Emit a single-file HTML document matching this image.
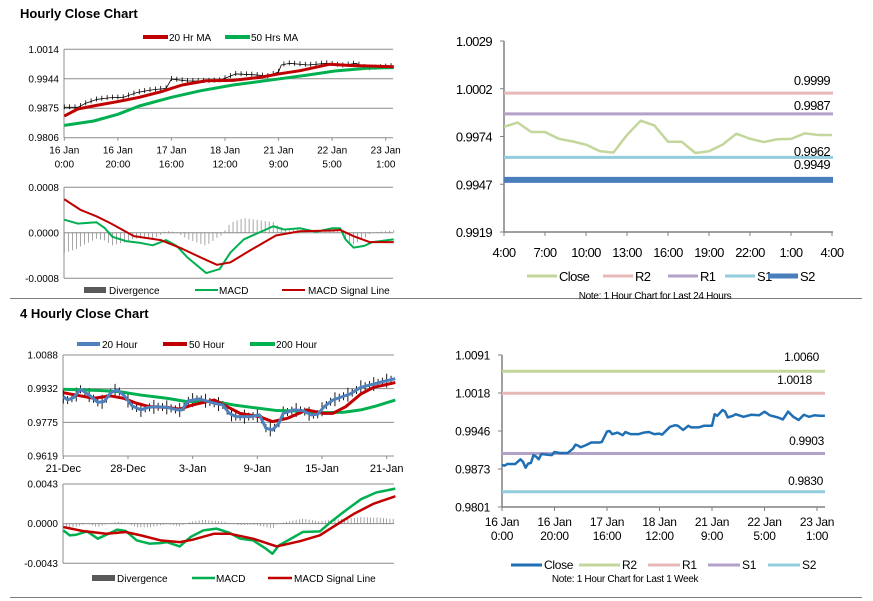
<!DOCTYPE html>
<html><head><meta charset="utf-8">
<style>
html,body{margin:0;padding:0;background:#fff;}
svg{display:block;font-family:"Liberation Sans",Arial,sans-serif;}
</style></head>
<body>
<svg id="chart" width="873" height="601" viewBox="0 0 873 601" xmlns="http://www.w3.org/2000/svg">
<rect width="873" height="601" fill="#fff"/>
<text x="20" y="18" font-size="13" font-weight="bold" fill="#000">Hourly Close Chart</text>
<text x="20" y="318" font-size="13" font-weight="bold" fill="#000">4 Hourly Close Chart</text>
<line x1="10" y1="298.5" x2="862" y2="298.5" stroke="#808080" stroke-width="1"/>
<line x1="10" y1="597.5" x2="862" y2="597.5" stroke="#808080" stroke-width="1"/>
<g id="layer"></g>
</svg>
<script>
// ---------- Top-left hourly chart data ----------
const tlMaHours = [0,5,12,20,28,36,44,53,63,73,80,88,99,107,123];
const tlMa20 = [0.9857,0.98735,0.9882,0.9891,0.9901,0.9914,0.9930,0.9940,0.9941,0.9948,0.9956,0.99637,0.99787,0.9976,0.9973];
const tlMa50Hours = [0,11,20,28,40,51,63,79,91,101,113,123];
const tlMa50 = [0.9835,0.98453,0.9861,0.98806,0.9901,0.99166,0.9930,0.99434,0.99535,0.9963,0.99693,0.9971];
const tlCloseHours = [0,5,8,12,17,22,27,32,38,40,46,53,58,64,71,76,80,81,84,91,98,104,109,113,123];
const tlClose = [0.98775,0.98775,0.9887,0.9896,0.9900,0.9901,0.9912,0.9918,0.9922,0.9944,0.99394,0.99394,0.9941,0.9956,0.9954,0.9951,0.9961,0.9977,0.9981,0.9977,0.9981,0.9976,0.9981,0.9969,0.9975];
const tlYTicks = ['1.0014','0.9944','0.9875','0.9806'];
const tlXTicks1 = ['16 Jan','16 Jan','17 Jan','18 Jan','21 Jan','22 Jan','23 Jan'];
const tlXTicks2 = ['0:00','20:00','16:00','12:00','9:00','5:00','1:00'];
const tlSigHours = [0,6,12,17,26,36,44,51,57,62,69,79,88,100,103,108,114,123];
const tlSignal = [0.00059,0.000405,0.00029,0.000174,-0.000059,-0.000128,-0.00028,-0.000435,-0.000563,-0.00052,-0.00032,-0.000047,0.000028,0.00004,0.00005,-0.00006,-0.000163,-0.000163];
const tlMacdHours = [0,5,12,15,18,23,28,33,38,42,46,53,58,62,67,73,78,82,88,94,100,103,105,108,112,115,123];
const tlMacd = [0.000231,0.000162,0.000185,0.000087,-0.00007,-0.000146,-0.000174,-0.00022,-0.000128,-0.000233,-0.000435,-0.000708,-0.000638,-0.000348,-0.000116,0.00001,0.000115,0.000057,0.00008,0.000017,0.00008,0.00008,-0.000116,-0.00026,-0.00023,-0.000163,-0.000116];
const tlMacdTicks = ['0.0008','0.0000','-0.0008'];

// ---------- Top-right 24h chart data ----------
const trClose = [0.99796,0.99820,0.99766,0.99766,0.99727,0.99712,0.99693,0.99656,0.99647,0.99749,0.99831,0.99804,0.9971,0.9971,0.99645,0.99655,0.99693,0.99756,0.99727,0.99708,0.99724,0.99726,0.99758,0.99749,0.99749];
const trLevels = [0.9999,0.9987,0.9962,0.9949];
const trLevelNames = ['R2','R1','S1','S2'];
const trYTicks = ['1.0029','1.0002','0.9974','0.9947','0.9919'];
const trXTicks = ['4:00','7:00','10:00','13:00','16:00','19:00','22:00','1:00','4:00'];

// ---------- Bottom-left 4 hourly chart data ----------
const blBlueBars = [0,2,5,8,12,16,19,22,25,28,32,36,39,43,48,53,55,58,63,70,74,77,80,87,91,94,97,100,102,107,111,115,118,121,125,133,138,144,148,154];
const bl20 = [0.9895,0.9879,0.9892,0.9929,0.9902,0.9868,0.9872,0.9913,0.9926,0.9902,0.9851,0.9833,0.9844,0.9848,0.9845,0.9833,0.9833,0.9875,0.9884,0.9864,0.9856,0.9817,0.9802,0.9802,0.9810,0.9748,0.9740,0.9771,0.9817,0.9833,0.9830,0.9810,0.9813,0.9848,0.9879,0.9907,0.9938,0.9953,0.9964,0.9978];
const blRedBars = [0,6,14,22,28,34,40,48,54,60,70,76,82,91,97,104,113,121,125,131,138,144,154];
const bl50 = [0.9913,0.9902,0.9887,0.9898,0.9887,0.9864,0.9848,0.9845,0.9837,0.9856,0.9879,0.9848,0.9817,0.9802,0.9779,0.9794,0.9833,0.9817,0.9817,0.9848,0.9907,0.9938,0.9960];
const blGreenBars = [0,17,26,36,48,57,70,79,88,99,110,119,130,138,145,154];
const bl200 = [0.9929,0.9923,0.9918,0.9902,0.9887,0.9872,0.9872,0.9856,0.9844,0.9830,0.9828,0.9820,0.9822,0.9833,0.9851,0.9879];
const blYTicks = ['1.0088','0.9932','0.9775','0.9619'];
const blXTicks = ['21-Dec','28-Dec','3-Jan','9-Jan','15-Jan','21-Jan'];
const blSigBars = [0,9,20,29,36,45,54,60,70,77,88,99,110,119,125,135,144,154];
const blSignal = [-0.00037,-0.0008,-0.00109,-0.00091,-0.00127,-0.00181,-0.002,-0.00174,-0.00109,-0.00109,-0.00163,-0.00247,-0.00189,-0.00127,-0.00037,0.00109,0.00217,0.00297];
const blMacdBars = [0,3,6,11,16,20,25,29,34,40,45,48,54,59,65,71,77,82,88,94,97,100,107,111,119,124,130,138,145,154];
const blMacd = [-0.00073,-0.00127,-0.0012,-0.00084,-0.00163,-0.0012,-0.00065,-0.0008,-0.00181,-0.00217,-0.00211,-0.002,-0.00247,-0.00145,-0.00073,-0.00054,-0.00098,-0.00163,-0.00181,-0.00272,-0.00326,-0.00236,-0.00145,-0.00091,-0.00084,0.00017,0.00126,0.00264,0.00337,0.0038];
const blMacdTicks = ['0.0043','0.0000','-0.0043'];

// ---------- Bottom-right week chart data ----------
const brHours = [0,1,2,5,7,8,9,10,11,12,13,14,15,17,19,20,22,25,27,28,29,30,32,34,37,38,39,40,41,42,44,46,47,49,52,54,56,58,60,61,62,64,66,67,69,71,72,75,77,80,81,82,84,85,86,88,89,92,95,98,100,102,105,107,109,111,113,115,117,119,121,123];
const brClose = [0.9881,0.9880,0.9883,0.9883,0.9892,0.9887,0.9876,0.9884,0.9885,0.9900,0.9897,0.9892,0.9902,0.9901,0.9900,0.9906,0.9904,0.9904,0.9912,0.9920,0.9918,0.9915,0.9919,0.9924,0.9924,0.9925,0.9935,0.9945,0.9946,0.9940,0.9943,0.9938,0.9944,0.9940,0.9940,0.9943,0.9944,0.9940,0.9941,0.9939,0.9944,0.9954,0.9957,0.9956,0.9948,0.9956,0.9953,0.9953,0.9956,0.9956,0.9978,0.9975,0.9986,0.9983,0.9972,0.9975,0.9978,0.9973,0.9977,0.9976,0.9983,0.9976,0.9972,0.9968,0.9983,0.9973,0.9967,0.9977,0.9973,0.9976,0.9975,0.9975];
const brLevels = [1.0060,1.0018,0.9903,0.9830];
const brLevelNames = ['R2','R1','S1','S2'];
const brYTicks = ['1.0091','1.0018','0.9946','0.9873','0.9801'];
const brXTicks1 = ['16 Jan','16 Jan','17 Jan','18 Jan','21 Jan','22 Jan','23 Jan'];
const brXTicks2 = ['0:00','20:00','16:00','12:00','9:00','5:00','1:00'];

const NS='http://www.w3.org/2000/svg';
const layer=document.getElementById('layer');
function mk(tag,attrs,parent){const e=document.createElementNS(NS,tag);for(const k in attrs)e.setAttribute(k,attrs[k]);(parent||layer).appendChild(e);return e;}
function lin(d0,d1,r0,r1){return v=>r0+(v-d0)*(r1-r0)/(d1-d0);}
function pathD(xs,ys,sx,sy){return xs.map((x,i)=>(i?'L':'M')+sx(x).toFixed(2)+','+sy(ys[i]).toFixed(2)).join(' ');}
function interp(xs,ys,h){if(h<=xs[0])return ys[0];for(let i=1;i<xs.length;i++){if(h<=xs[i]){const t=(h-xs[i-1])/(xs[i]-xs[i-1]);return ys[i-1]+t*(ys[i]-ys[i-1]);}}return ys[ys.length-1];}
function txt(x,y,s,size,anchor,name,fill,ls){const t=mk('text',{x:x,y:y,'font-size':size,'text-anchor':anchor||'start',fill:fill||'#000'});if(ls)t.setAttribute('letter-spacing',ls);t.textContent=s;return t;}
function line(x1,y1,x2,y2,stroke,w,name){const l=mk('line',{x1:x1,y1:y1,x2:x2,y2:y2,stroke:stroke,'stroke-width':w});return l;}
function series(xs,ys,sx,sy,color,w,name){const p=mk('path',{d:pathD(xs,ys,sx,sy),fill:'none',stroke:color,'stroke-width':w,'stroke-linejoin':'round'});return p;}
const GRID='#8c8c8c', RED='#c00000', GREEN='#00b050', BLUE='#4f81bd';

// ===== Top-left main =====
(function(){
 const L=64,R=393,T=49.3,B=137.7;
 const sx=lin(0,120,64.3,385.7), sy=lin(0.9806,1.0014,B,T);
 tlYTicks.forEach((t,i)=>{const y=T+i*(B-T)/3;line(L,y,R,y,GRID,1,'tl-gridline');txt(L-5,y+3.5,t,10,'end','tl-y-tick');});
 line(L,T,L,B,GRID,1,'tl-y-axis');
 tlXTicks1.forEach((t,i)=>{const x=sx(i*20);line(x,B,x,B+3,GRID,1,'tl-x-tickmark');txt(x,B+16,t,10,'middle','tl-x-tick');txt(x,B+30,tlXTicks2[i],10,'middle','tl-x-tick-time');});
 for(let h=0;h<=123;h+=2){const c=interp(tlCloseHours,tlClose,h);line(sx(h),sy(c)-3,sx(h),sy(c)+2,'#000',0.8,'tl-close-bar');}
 series(tlCloseHours,tlClose,sx,sy,'#000',0.8,'tl-close-line');
 series(tlMa50Hours,tlMa50,sx,sy,GREEN,3,'tl-50hr-ma-line');
 series(tlMaHours,tlMa20,sx,sy,RED,3,'tl-20hr-ma-line');
 line(143,37,168,37,RED,4,'tl-legend-20hr-swatch');txt(169,41,'20 Hr MA',10,'start','tl-legend-20hr');
 line(225,37,250,37,GREEN,4,'tl-legend-50hr-swatch');txt(251,41,'50 Hrs MA',10,'start','tl-legend-50hr');
 const MT=187.3,MB=278.3;
 const my=lin(-0.0008,0.0008,MB,MT);
 tlMacdTicks.forEach((t,i)=>{const y=MT+i*(MB-MT)/2;line(L,y,R,y,GRID,1,'tl-macd-gridline');txt(L-5,y+3.5,t,10,'end','tl-macd-y-tick');});
 line(L,MT,L,MB,GRID,1,'tl-macd-y-axis');
 for(let h=0;h<=123;h+=1.5){const d=interp(tlMacdHours,tlMacd,h)-interp(tlSigHours,tlSignal,h);line(sx(h),my(0),sx(h),my(d),'#808080',0.7,'tl-divergence-bar');}
 series(tlMacdHours,tlMacd,sx,my,GREEN,2,'tl-macd-line');
 series(tlSigHours,tlSignal,sx,my,RED,2,'tl-signal-line');
 mk('rect',{x:84,y:287,width:22,height:6,fill:'#595959'});
 txt(109,294,'Divergence',10,'start','tl-legend-divergence');
 line(195,290,218,290,GREEN,2,'tl-legend-macd-swatch');txt(219,294,'MACD',10,'start','tl-legend-macd');
 line(282,290,305,290,RED,2,'tl-legend-signal-swatch');txt(308,294,'MACD Signal Line',10,'start','tl-legend-signal');
})();

// ===== Top-right 24h =====
(function(){
 const L=504,R=833,T=41,B=232;
 const sx=lin(0,24,504,832), sy=lin(0.9919,1.0029,B,T);
 line(L,T,L,B,'#808080',1.5,'tr-y-axis');line(L,B,R,B,'#808080',1.5,'tr-x-axis');
 trYTicks.forEach((t,i)=>{const y=T+i*(B-T)/4;line(L-4,y,L,y,'#808080',1,'tr-y-tickmark');txt(L-12,y+5,t,13,'end','tr-y-tick','#000','-0.6');});
 trXTicks.forEach((t,i)=>{const x=sx(i*3);line(x,B,x,B+4,'#808080',1,'tr-x-tickmark');txt(x,B+25,t,13,'middle','tr-x-tick','#000','-0.6');});
 const cols=['#e6b9b8','#b3a2c7','#93cddd','#4a7ebb'], ws=[3,3,3,6];
 const labY=[85,110,156,169];
 trLevels.forEach((v,i)=>{line(L,sy(v),R,sy(v),cols[i],ws[i],'tr-level-'+trLevelNames[i].toLowerCase());txt(830,labY[i],v.toFixed(4),13,'end','tr-level-label','#000','-0.6');});
 series(trClose.map((_,i)=>i),trClose,sx,sy,'#c3d69b',2.5,'tr-close-line');
 const lg=[[527,557,'#c3d69b',3,'Close'],[603,633,cols[0],3,'R2'],[668,698,cols[1],3,'R1'],[725,755,cols[2],3,'S1'],[768,798,cols[3],5,'S2']];
 lg.forEach(g=>{line(g[0],276,g[1],276,g[2],g[3],'tr-legend-swatch');txt(g[1]+2,281,g[4],13,'start','tr-legend-label','#000','-0.6');});
 txt(655,299,'Note: 1 Hour Chart for Last 24 Hours',10,'middle','tr-note','#000','-0.3');
})();

// ===== Bottom-left 4 hourly =====
(function(){
 const L=63,R=394,T=355,B=456;
 const sx=lin(0,150,63.3,386.7), sy=lin(0.9619,1.0088,B,T);
 blYTicks.forEach((t,i)=>{const y=T+i*(B-T)/3;line(L,y,R,y,GRID,1,'bl-gridline');txt(L-5,y+3.5,t,10,'end','bl-y-tick');});
 line(L,T,L,B,GRID,1,'bl-y-axis');
 blXTicks.forEach((t,i)=>{const x=sx(i*30);line(x,B,x,B+3,GRID,1,'bl-x-tickmark');txt(x,B+16,t,11,'middle','bl-x-tick');});
 for(let b=0;b<=153;b+=2){const c=interp(blBlueBars,bl20,b);const hi=(b%6===0)?7:4;line(sx(b),sy(c)-hi,sx(b),sy(c)+hi,'#000',0.9,'bl-close-bar');}
 series(blGreenBars,bl200,sx,sy,GREEN,3,'bl-200hour-line');
 series(blRedBars,bl50,sx,sy,RED,3,'bl-50hour-line');
 series(blBlueBars,bl20,sx,sy,BLUE,3,'bl-20hour-line');
 line(77,344,100,344,BLUE,4,'bl-legend-20-swatch');txt(102,348,'20 Hour',10,'start','bl-legend-20');
 line(163,344,187,344,RED,4,'bl-legend-50-swatch');txt(189,348,'50 Hour',10,'start','bl-legend-50');
 line(250,344,275,344,GREEN,4,'bl-legend-200-swatch');txt(276,348,'200 Hour',10,'start','bl-legend-200');
 const MT=484,MB=563.3;
 const my=lin(-0.0043,0.0043,MB,MT);
 blMacdTicks.forEach((t,i)=>{const y=MT+i*(MB-MT)/2;line(L,y,R,y,GRID,1,'bl-macd-gridline');txt(L-5,y+3.5,t,10,'end','bl-macd-y-tick');});
 line(L,MT,L,MB,GRID,1,'bl-macd-y-axis');
 for(let b=0;b<=153;b+=1.5){const d=(interp(blMacdBars,blMacd,b)-interp(blSigBars,blSignal,b))*0.6;line(sx(b),my(0),sx(b),my(d),'#808080',0.7,'bl-divergence-bar');}
 series(blMacdBars,blMacd,sx,my,GREEN,2.5,'bl-macd-line');
 series(blSigBars,blSignal,sx,my,RED,2.5,'bl-signal-line');
 mk('rect',{x:92,y:575,width:23,height:6,fill:'#595959'});
 txt(117,582,'Divergence',10,'start','bl-legend-divergence');
 line(192,578,215,578,GREEN,2.5,'bl-legend-macd-swatch');txt(216,582,'MACD',10,'start','bl-legend-macd');
 line(268,578,292,578,RED,2.5,'bl-legend-signal-swatch');txt(294,582,'MACD Signal Line',10,'start','bl-legend-signal');
})();

// ===== Bottom-right week =====
(function(){
 const L=502,R=825,T=355,B=507;
 const sx=lin(0,120,502,817), sy=lin(0.9801,1.0091,B,T);
 line(L,T,L,B,'#808080',1.5,'br-y-axis');line(L,B,R,B,'#808080',1.5,'br-x-axis');
 brYTicks.forEach((t,i)=>{const y=T+i*(B-T)/4;line(L-4,y,L,y,'#808080',1,'br-y-tickmark');txt(L-12,y+4.5,t,12,'end','br-y-tick','#000','-0.3');});
 brXTicks1.forEach((t,i)=>{const x=sx(i*20);line(x,B,x,B+4,'#808080',1,'br-x-tickmark');txt(x,B+19,t,12,'middle','br-x-tick','#000','-0.3');txt(x,B+33,brXTicks2[i],12,'middle','br-x-tick-time','#000','-0.3');});
 const cols=['#c3d69b','#e6b9b8','#b3a2c7','#93cddd'];
 const labY=[361,384,445,485], labX=[819,812,824,823];
 brLevels.forEach((v,i)=>{line(L,sy(v),R,sy(v),cols[i],3,'br-level-'+brLevelNames[i].toLowerCase());txt(labX[i],labY[i],v.toFixed(4),12,'end','br-level-label','#000','-0.3');});
 series(brHours,brClose,sx,sy,'#1f6fb4',2.5,'br-close-line');
 const lg=[[511,542,'#1f6fb4',3,'Close'],[579,620,cols[0],3,'R2'],[648,680,cols[1],3,'R1'],[708,740,cols[2],3,'S1'],[768,800,cols[3],3,'S2']];
 lg.forEach(g=>{line(g[0],565,g[1],565,g[2],g[3],'br-legend-swatch');txt(g[1]+2,569,g[4],12,'start','br-legend-label','#000','-0.3');});
 txt(625,582,'Note: 1 Hour Chart for Last 1 Week',10,'middle','br-note','#000','-0.3');
})();
</script>
</body></html>
